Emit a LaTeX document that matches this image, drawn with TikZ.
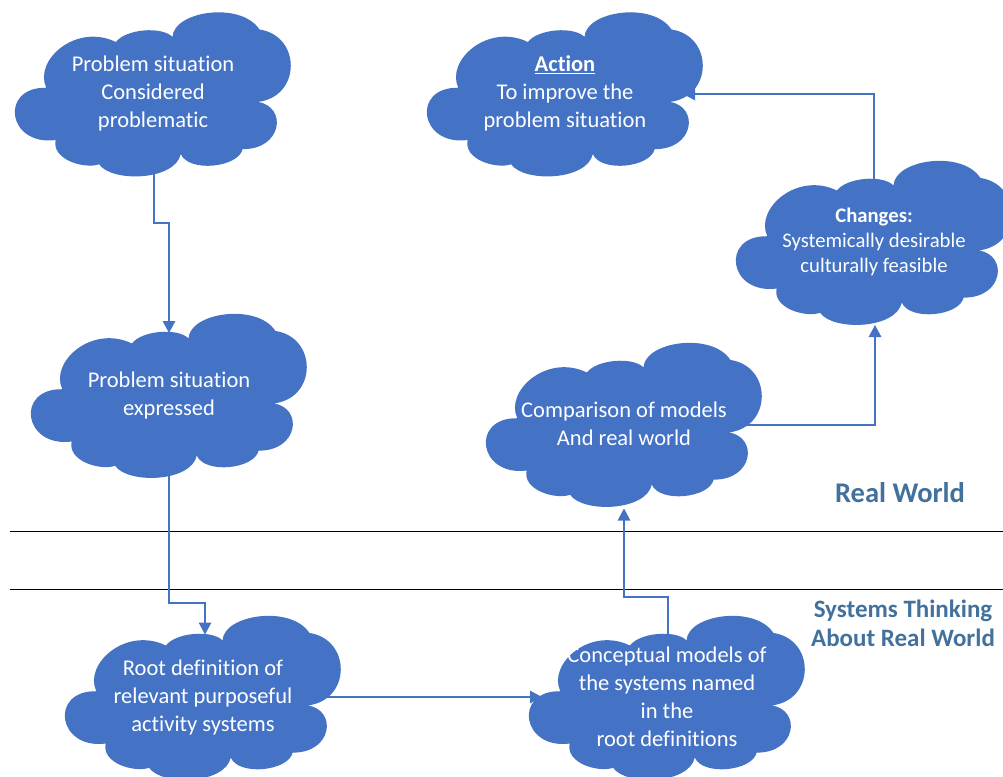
\documentclass[tikz,border=0pt]{standalone}
\usepackage{fontspec}
\setmainfont{Carlito}[Ligatures={NoCommon}]
\usetikzlibrary{arrows.meta,calc,backgrounds}
\definecolor{cloudblue}{HTML}{4472C4}
\definecolor{labelblue}{HTML}{41719C}

% Cloud outline behind a node; the outline is given in percent of the node box
\newcommand\cloudbehind[1]{%
  \begin{scope}[on background layer, shift={(#1.north west)}, x=2.75pt, y=-1.65pt]
    \fill[cloudblue] (11.2,46.5)
      .. controls (6.5,30) and (22,7) .. (36.5,18.8)
      .. controls (40,11) and (53,9) .. (57.1,15.7)
      .. controls (57.5,0) and (82,-6) .. (88.7,11.2)
      .. controls (104,15) and (104,52) .. (88.1,55.1)
      .. controls (99,58) and (97,84) .. (82.6,83.7)
      .. controls (81,95) and (63,98) .. (60.1,86.7)
      .. controls (58,103) and (35,104) .. (30.4,92.9)
      .. controls (25,96) and (13,90) .. (14.6,78.2)
      .. controls (-3,82) and (-6,46) .. (11.2,46.5) -- cycle;
  \end{scope}}

\begin{document}
\begin{tikzpicture}[x=1pt, y=-1pt,
  cloudtext/.style={text=white, align=center, inner sep=0pt, outer sep=0pt,
    minimum width=275pt, minimum height=165pt,
    font=\fontsize{22.5}{28}\selectfont},
  conn/.style={draw=cloudblue, line width=1.4pt,
    -{Triangle[length=12pt,width=12.5pt]}},
  divider/.style={draw=black, line width=1pt},
  zone/.style={text=labelblue, align=center,
    font=\bfseries\fontsize{28.5}{34}\selectfont}]

\useasboundingbox (0,0) rectangle (1003,776);

% clouds with their texts
\node[cloudtext] (A) at (153,93.5) {Problem situation\\Considered\\problematic};
\node[cloudtext] (B) at (565,93.5) {\textbf{\underline{Action}}\\To improve the\\problem situation};
\node[cloudtext] (C) at (169,395) {Problem situation\\expressed};
\node[cloudtext] (D) at (203,697) {Root definition of\\relevant purposeful\\activity systems};
\node[cloudtext] (E) at (667,697) {Conceptual models of\\the systems named\\in the\\root definitions};
\node[cloudtext] (F) at (624,424) {Comparison of models\\And real world};
\node[cloudtext, font=\fontsize{20.7}{25}\selectfont] (G) at (874,242)
  {\textbf{Changes:}\\Systemically desirable\\culturally feasible};

\cloudbehind{A}
\cloudbehind{B}
\cloudbehind{C}
\cloudbehind{D}
\cloudbehind{E}
\cloudbehind{F}
\cloudbehind{G}

% zone labels and dividing lines
\node[zone] (rw) at (900,493) {Real World};
\node[zone, font=\bfseries\fontsize{25}{29}\selectfont] (st) at (903,623.5)
  {Systems Thinking\\About Real World};
\draw[divider] (10,531) -- (1003,531);
\draw[divider] (10,589) -- (1003,589);

% connectors
\draw[conn] ($(A.south)+(1,-5)$) -- ++(0,52) -| ($(C.north)+(0,20.5)$);
\draw[conn] ($(C.south)+(0,-10)$) |- ($(D.north)+(2,-11.5)$) -- ($(D.north)+(2,20)$);
\draw[conn] ($(D.east)+(-30,0)$) -- ($(E.west)+(12.5,0)$);
\draw[conn] ($(E.north)+(1,25)$) |- ($(F.south)+(0,90.5)$) -- ($(F.south)+(0,2)$);
\draw[conn] ($(F.east)+(-25,1)$) -| ($(G.south)+(1,0.5)$);
\draw[conn] ($(G.north)+(0,25.5)$) |- ($(B.east)+(-19.5,0.5)$);
\end{tikzpicture}
\end{document}
